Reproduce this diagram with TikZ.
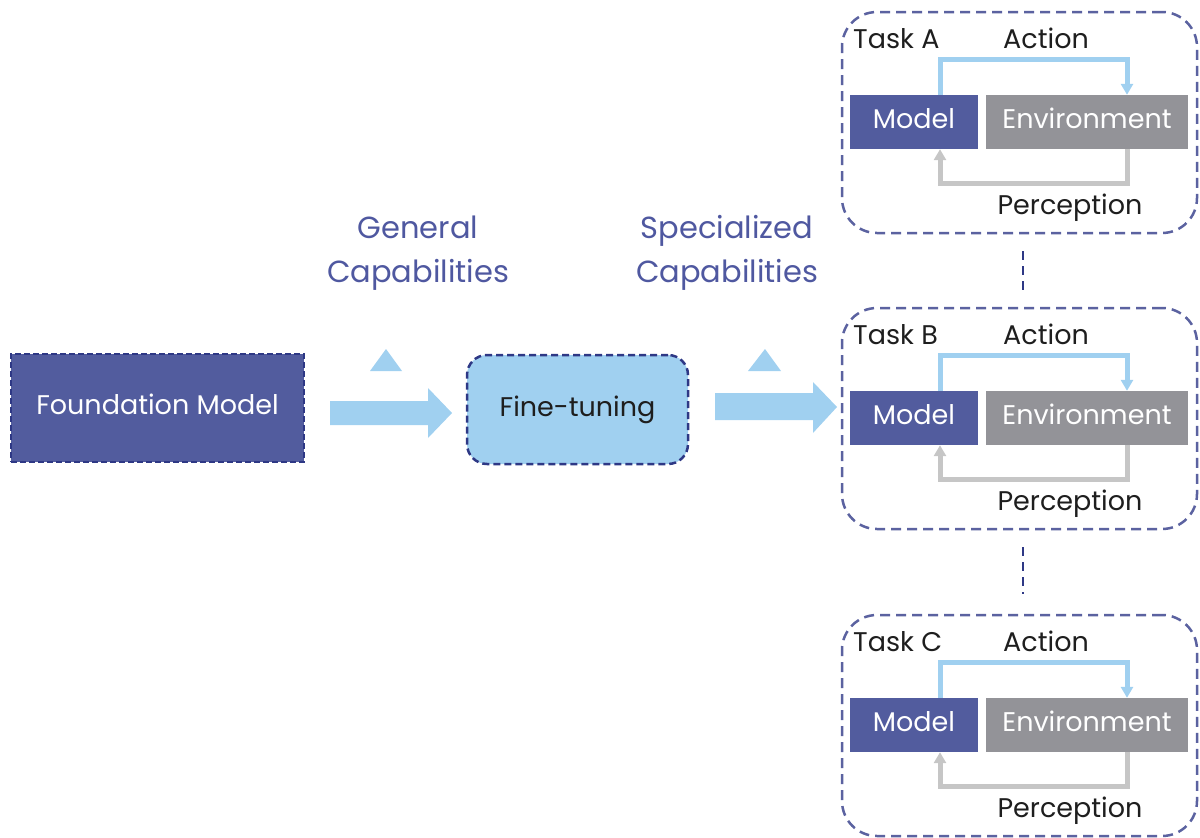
\documentclass[tikz,border=0pt]{standalone}
\usepackage{fontspec}
\setmainfont{Poppins}
\usetikzlibrary{arrows.meta}
\definecolor{navy}{HTML}{525C9E}
\definecolor{navyline}{HTML}{2E3885}
\definecolor{taskline}{HTML}{5B62A0}
\definecolor{skyblue}{HTML}{A0D0F0}
\definecolor{envgray}{HTML}{939398}
\definecolor{percgray}{HTML}{C6C6C6}
\definecolor{captext}{HTML}{4F58A0}
\definecolor{ink}{HTML}{1E1E1E}
\tikzset{
  base font/.style={font=\fontsize{27}{32}\selectfont},
  boxtext/.style={base font, text height=19pt, text depth=6pt, inner sep=0pt},
  fmbox/.style={boxtext, fill=navy, draw=navyline, line width=2.5pt,
    dash pattern=on 6pt off 3pt, text=white, minimum width=293pt, minimum height=108pt},
  ftbox/.style={boxtext, fill=skyblue, draw=navyline, line width=2.5pt,
    dash pattern=on 7pt off 4pt, rounded corners=20pt, text=ink,
    minimum width=221pt, minimum height=109pt},
  taskbox/.style={draw=taskline, line width=2.5pt, dash pattern=on 10pt off 6pt,
    rounded corners=35pt, minimum width=355pt, minimum height=221pt, inner sep=0pt},
  modelbox/.style={boxtext, fill=navy, text=white, minimum width=128pt, minimum height=54pt},
  envbox/.style={boxtext, fill=envgray, text=white, minimum width=202pt, minimum height=54pt},
  label/.style={base font, text=ink, inner sep=0pt},
  captxt/.style={font=\fontsize{30.5}{44}\selectfont, text=captext, align=center, inner sep=0pt},
  act/.style={draw=skyblue, line width=5pt, -{Triangle[width=12pt,length=11pt]}},
  perc/.style={draw=percgray, line width=5pt, -{Triangle[width=12pt,length=11pt]}},
  link/.style={draw=navyline, line width=2.5pt, dash pattern=on 9pt off 6pt},
  block/.style={fill=skyblue},
}
\begin{document}
\begin{tikzpicture}[x=1pt, y=-1pt]
\useasboundingbox (0,0) rectangle (1200,838);

% main pipeline
\node[fmbox] (fm) at (157.5,408) {Foundation Model};
\node[ftbox] (ft) at (577.5,409.5) {Fine-tuning};

% block arrows and their small markers
\fill[block] (330,401) -- (428,401) -- (428,388) -- (452,413) -- (428,438) -- (428,425) -- (330,425) -- cycle;
\fill[block] (370,371) -- (386,349) -- (402,371) -- cycle;
\fill[block] (715,393) -- (813,393) -- (813,382) -- (837,407) -- (813,433) -- (813,420) -- (715,420) -- cycle;
\fill[block] (748,371) -- (765,349) -- (781,371) -- cycle;

% the last line of each two-line label sits on the given baseline
\node[captxt, anchor=base] (gen) at (418,282) {General\\Capabilities};
\node[captxt, anchor=base] (spec) at (727,282) {Specialized\\Capabilities};

% task panels
\foreach \t/\name/\off in {A/Task A/0, B/Task B/296, C/Task C/603}{
  \node[taskbox] (task\t) at (1019.5,122.5+\off) {};
  \node[modelbox] (mod\t) at (914,122+\off) {Model};
  \node[envbox] (env\t) at (1087,122+\off) {Environment};
  \node[label, anchor=base west] (tl\t) at (853,48+\off) {\name};
  \node[label, anchor=base] (al\t) at (1046,48+\off) {Action};
  \node[label, anchor=base] (pl\t) at (1070,214+\off) {Perception};
  \draw[act] ([xshift=26pt]mod\t.north) -- ++(0,-35) -| ([xshift=40pt]env\t.north);
  \draw[perc] ([xshift=40pt]env\t.south) -- ++(0,34) -| ([xshift=26pt]mod\t.south);
}

% dashed links between panels
\draw[link] ([xshift=3.5pt,yshift=-17pt]taskA.south) -- ([xshift=3.5pt,yshift=14pt]taskB.north);
\draw[link] ([xshift=3.5pt,yshift=-17pt]taskB.south) -- ([xshift=3.5pt,yshift=20pt]taskC.north);
\end{tikzpicture}
\end{document}
